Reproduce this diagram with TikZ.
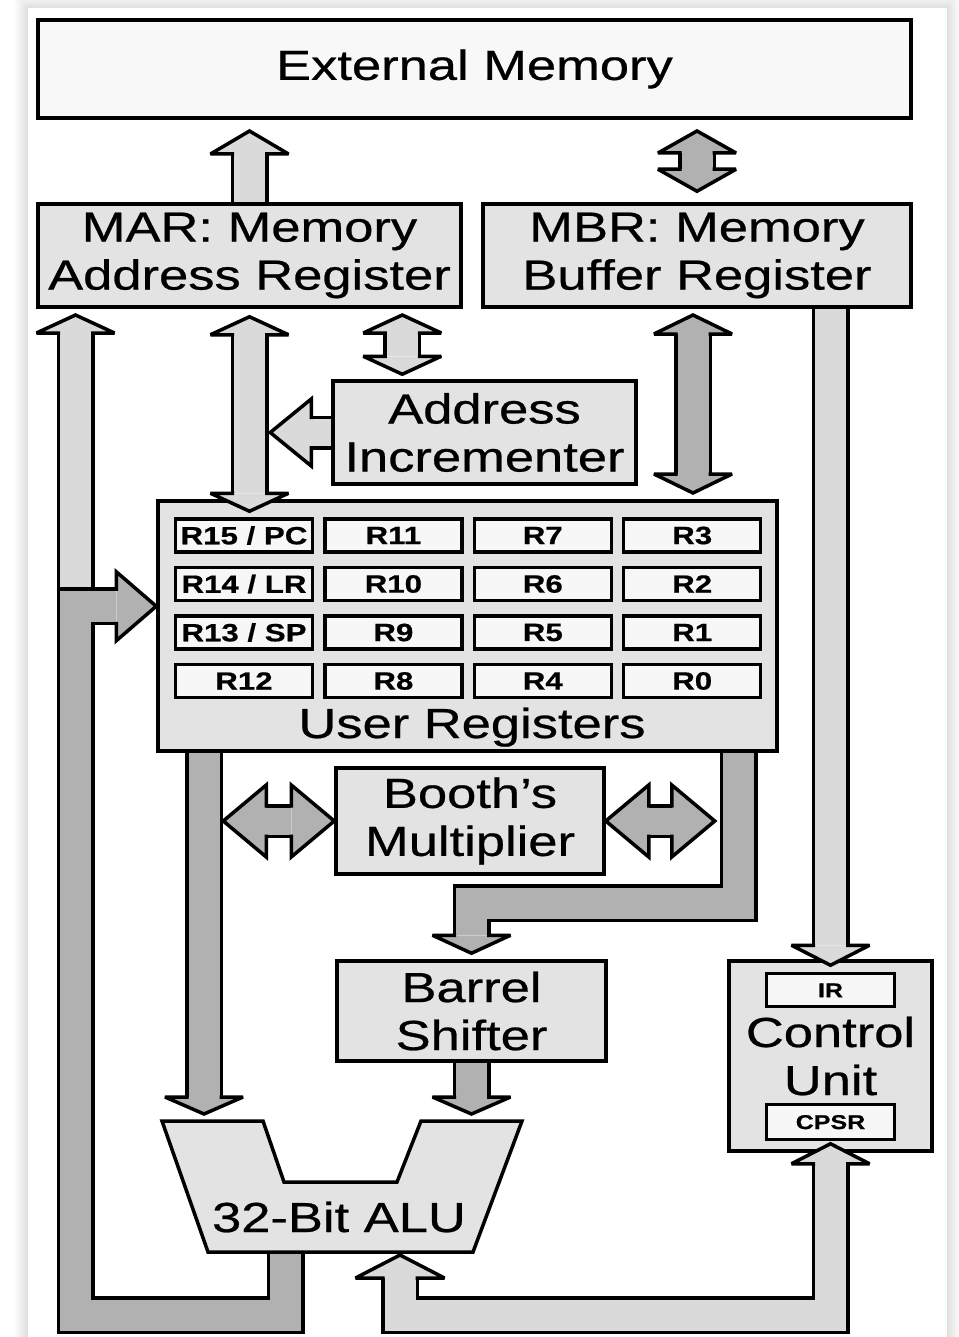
\documentclass[tikz,border=0pt]{standalone}
\usepackage{fontspec}
\setmainfont{Liberation Sans}[FakeStretch=1.25, FakeBold=0.6]
\usepackage{tikz}
\usetikzlibrary{calc,positioning,backgrounds}
\definecolor{boxgray}{HTML}{E3E3E3}
\definecolor{memwhite}{HTML}{F8F8F8}
\definecolor{cellwhite}{HTML}{F7F7F7}
\definecolor{buslight}{HTML}{DADADA}
\definecolor{busdark}{HTML}{B1B1B1}
\newcommand{\unitfont}{\fontsize{42}{48}\selectfont}
\newcommand{\cellfont}{\fontsize{25}{25}\selectfont\bfseries}
\newcommand{\flagfont}{\fontsize{20}{20}\selectfont\bfseries}
\tikzset{
  unitbox/.style={
    rectangle, draw=black, fill=#1, line width=3.5pt,
    inner sep=0pt, align=center, font=\unitfont
  },
  unitbox/.default=boxgray,
  regcell/.style={
    rectangle, draw=black, fill=cellwhite, line width=3.2pt,
    inner sep=0pt, minimum width=137pt, minimum height=33pt,
    font=\cellfont
  },
  textlabel/.style={inner sep=0pt, font=\unitfont, anchor=base},
  alushape/.style={draw=black, fill=boxgray, line width=3.5pt, line join=miter},
  bus color/.store in=\buscolor,
  bus gap/.store in=\busgap,
  bus shaft/.store in=\busshaft,
  bus head width/.store in=\busheadw,
  bus head length/.store in=\busheadl,
  lightbus/.style={bus color=buslight},
  darkbus/.style={bus color=busdark},
  vbus/.style={bus gap=31pt, bus shaft=15.5pt, bus head width=39pt,
    bus head length=20pt},
  hbus/.style={bus gap=27pt, bus shaft=13.5pt, bus head width=35pt,
    bus head length=42pt},
  shaftline/.style={draw=black, line width=3.5pt, line join=miter,
    double=\buscolor, double distance=\busgap},
  headline/.style={draw=black, fill=\buscolor, line width=3.5pt,
    line join=miter, miter limit=3},
  lightbus, vbus
}
% fat arrow head: #1 = point behind the head, #2 = tip
\newcommand{\bushead}[2]{%
  \path ($(#2)!\busheadl!(#1)$) coordinate (hb);
  \filldraw[headline] ($(hb)!\busshaft!90:(#2)$) -- ($(hb)!\busheadw!90:(#2)$)
    -- (#2) -- ($(hb)!\busheadw!-90:(#2)$) -- ($(hb)!\busshaft!-90:(#2)$);
}
% straight bus, head at #3
\newcommand{\onebus}[3][]{%
  \begin{scope}[#1]
    \begin{scope}[on background layer]
      \draw[shaftline] (#2) -- ($(#3)!\busheadl!(#2)$);
    \end{scope}
    \bushead{#2}{#3}
  \end{scope}
}
% straight bus, heads at both ends
\newcommand{\twobus}[3][]{%
  \begin{scope}[#1]
    \begin{scope}[on background layer]
      \draw[shaftline] ($(#2)!\busheadl!(#3)$) -- ($(#3)!\busheadl!(#2)$);
    \end{scope}
    \bushead{#3}{#2}
    \bushead{#2}{#3}
  \end{scope}
}

\begin{document}
\begin{tikzpicture}[x=1pt, y=-1pt]
  \useasboundingbox (0,0) rectangle (958,1337);

  % page with a soft shadow
  \begin{scope}[on background layer]
    \fill[white] (0,0) rectangle (958,1337);
    \foreach \i in {1,...,14} {
      \pgfmathsetmacro\op{0.13-0.009*\i}
      \draw[black, opacity=\op, line width=1pt]
        ({28-\i},{9-\i}) rectangle ({946+\i},1360);
    }
    \fill[white] (28,9) rectangle (946,1337);
  \end{scope}

  % units
  \node[unitbox=memwhite, line width=4pt, minimum width=873pt, minimum height=98pt]
    (ext) at (474.5,69) {External Memory};
  \node[unitbox, minimum width=423pt, minimum height=103pt]
    (mar) at (249.5,255.5) {MAR: Memory\\Address Register};
  \node[unitbox, minimum width=428pt, minimum height=103pt]
    (mbr) at (697,255.5) {MBR: Memory\\Buffer Register};
  \node[unitbox, minimum width=303pt, minimum height=103pt]
    (inc) at (484.5,432.5) {Address\\Incrementer};
  \node[unitbox, minimum width=619pt, minimum height=250pt]
    (regs) at (467.5,626) {};
  \node[textlabel] (reglabel) at (472,738) {User Registers};
  \foreach \lbl [count=\k from 0] in {{R15 / PC},{R14 / LR},{R13 / SP},R12,
      R11,R10,R9,R8,R7,R6,R5,R4,R3,R2,R1,R0} {
    \pgfmathtruncatemacro\col{\k/4}
    \pgfmathtruncatemacro\row{mod(\k,4)}
    \node[regcell] (cell\k) at ({244+149.4*\col},{535.5+48.5*\row}) {\lbl};
  }
  \node[unitbox, minimum width=268pt, minimum height=106pt]
    (booth) at (470,821) {Booth's\\Multiplier};
  \node[unitbox, minimum width=269pt, minimum height=100pt]
    (barrel) at (471.5,1011) {Barrel\\Shifter};
  \node[unitbox, minimum width=203pt, minimum height=190pt]
    (cu) at (830.5,1056) {Control\\Unit};
  \node[regcell, minimum width=128pt, font=\flagfont, below=13pt of cu.north]
    (ir) {IR};
  \node[regcell, minimum width=128pt, minimum height=35pt, font=\flagfont,
    above=11.5pt of cu.south] (cpsr) {CPSR};

  % ALU
  \draw[alushape] (162,1121) -- (263,1121) -- (284,1182) -- (397,1182)
    -- (421,1121) -- (522,1121) -- (473,1252) -- (208,1252) -- cycle;
  \node[textlabel] (alu) at (339,1232) {32-Bit ALU};

  % bus end points
  \coordinate (ext-in) at ($(mar.north |- ext.south)+(0,11)$);
  \coordinate (mem-top) at ($(mbr.north |- ext.south)+(0,11)$);
  \coordinate (mem-bot) at ($(mbr.north)+(0,-11)$);
  \coordinate (lb-tip) at (75.5,315);
  \coordinate (lb-low) at (75.5,600);
  \coordinate (inc-bot) at ($(inc.north west)+(71,-5)$);
  \coordinate (inc-top) at (inc-bot |- lb-tip);
  \coordinate (inc-tip) at ($(inc.west)+(-61,0)$);
  \coordinate (mar-lo) at ($(mar.south)+(0,8)$);
  \coordinate (reg-hi) at ($(regs.north -| mar.south)+(0,12)$);
  \coordinate (mbr-lo) at (693,315);
  \coordinate (reg-hi2) at (693,493);
  \coordinate (mbr-cu) at (mbr.south -| cu.north);
  \coordinate (cu-in) at ($(cu.north)+(0,6)$);
  \coordinate (alu-a) at (204,1114);
  \coordinate (alu-b) at (barrel.south |- alu-a);
  \coordinate (regs-l) at (regs.south -| alu-a);
  \coordinate (bm-l) at ($(booth.west)+(-111,0)$);
  \coordinate (bm-r) at ($(booth.east)+(109,0)$);
  \coordinate (rb-top) at ($(regs.south east)+(-40,0)$);
  \coordinate (rb-bend) at (471.5,903);
  \coordinate (rb-tip) at ($(barrel.north)+(0,-6)$);
  \coordinate (alu-out) at (285.5,1252);
  \coordinate (loop-dl) at (75.5,1315);
  \coordinate (reg-in) at ($(regs.north west)+(0,107)$);
  \coordinate (reg-back) at ($(reg-in)+(-80,0)$);
  \coordinate (cu-tip) at ($(cu.south)+(0,-9)$);
  \coordinate (loop-dr) at (cu-tip |- loop-dl);
  \coordinate (alu-in) at (400,1255);
  \coordinate (alu-back) at (alu-in |- loop-dl);

  % memory side
  \onebus[lightbus, bus head length=23pt]{mar.north}{ext-in}
  \twobus[darkbus, bus head length=22pt]{mem-top}{mem-bot}
  \twobus[lightbus, bus head length=18pt]{inc-top}{inc-bot}
  \onebus[lightbus, hbus, bus head length=41pt, bus head width=33.5pt]{inc.west}{inc-tip}
  \twobus[lightbus, bus head length=18pt]{mar-lo}{reg-hi}
  \twobus[darkbus, bus head length=19pt]{mbr-lo}{reg-hi2}
  \onebus[lightbus]{mbr-cu}{cu-in}

  % register side
  \twobus[darkbus, hbus, bus head width=36pt, bus head length=43pt]{bm-l}{booth.west}
  \twobus[darkbus, hbus, bus head width=36pt, bus head length=43pt]{booth.east}{bm-r}
  \onebus[darkbus, bus head length=17pt]{regs-l}{alu-a}
  \onebus[darkbus, bus head length=17pt]{barrel.south}{alu-b}
  \begin{scope}[darkbus, bus head length=18pt]
    \begin{scope}[on background layer]
      \draw[shaftline] (rb-top) |- (rb-bend) -- ($(rb-tip)!\busheadl!(rb-bend)$);
    \end{scope}
    \bushead{rb-bend}{rb-tip}
  \end{scope}

  % ALU result back to the registers and MAR
  \onebus[lightbus, bus head length=18pt]{lb-low}{lb-tip}
  \begin{scope}[darkbus, bus head width=34.5pt, bus head length=40pt]
    \begin{scope}[on background layer]
      \draw[shaftline] (alu-out) |- (loop-dl) |- ($(reg-in)!\busheadl!(reg-back)$);
    \end{scope}
    \bushead{reg-back}{reg-in}
  \end{scope}

  % control unit <-> ALU
  \begin{scope}[lightbus]
    \begin{scope}[on background layer]
      \draw[shaftline] ($(cu-tip)!20pt!(loop-dr)$) -- (loop-dr)
        -| ($(alu-in)!23pt!(alu-back)$);
    \end{scope}
    \bushead{loop-dr}{cu-tip}
    \begin{scope}[bus head width=44.5pt, bus head length=23pt]
      \bushead{alu-back}{alu-in}
    \end{scope}
  \end{scope}
\end{tikzpicture}
\end{document}
